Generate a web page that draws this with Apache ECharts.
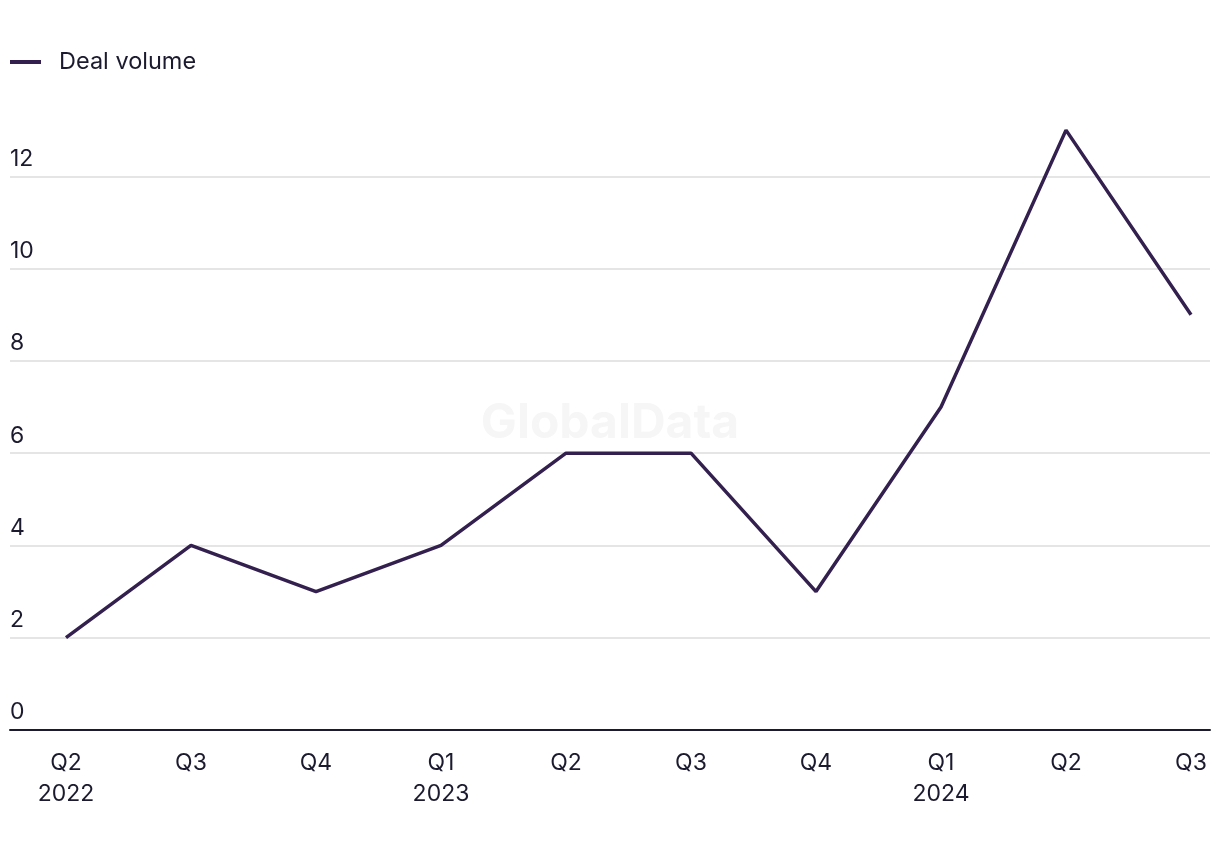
<!DOCTYPE html>
<html><head><meta charset="utf-8">
<script src="https://cdn.jsdelivr.net/npm/echarts@6/dist/echarts.min.js"></script>
<style>html,body{margin:0;padding:0;background:#fff}#c{width:1220px;height:850px}</style>
</head><body><div id="c"></div>
<script>
const categories = ['Q2\n2022','Q3','Q4','Q1\n2023','Q2','Q3','Q4','Q1\n2024','Q2','Q3'];
const dealVolume = [2,4,3,4,6,6,3,7,13,9];
const seriesName = 'Deal volume';
const FONT = 'Inter, "Liberation Sans", Arial, sans-serif';
const TXT = '#1b1a2e';
const chart = echarts.init(document.getElementById('c'));
chart.setOption({
  animation:false,
  textStyle:{fontFamily:FONT},
  legend:{left:10, top:50, padding:0, itemWidth:31, itemHeight:4, itemGap:20, icon:'rect',
    textStyle:{fontSize:23.5, color:TXT, fontFamily:FONT, padding:[0,0,0,13]},
    data:[{name:seriesName, icon:'rect'}]},
  graphic:[{type:'text', left:'center', top:400, z:0, silent:true,
    style:{text:'GlobalData', fontSize:48, fontWeight:'bold', fill:'#f6f6f6', fontFamily:FONT}}],
  grid:[
    {left:10, right:10, top:84, bottom:120},
    {left:66, right:29, top:84, bottom:120}
  ],
  xAxis:[
    {gridIndex:0, type:'category', data:categories, boundaryGap:false,
     axisLine:{show:true, lineStyle:{color:TXT, width:2}}, axisTick:{show:false}, axisLabel:{show:false}},
    {gridIndex:1, type:'category', data:categories, boundaryGap:false,
     axisLine:{show:false}, axisTick:{show:false},
     axisLabel:{fontSize:23, color:TXT, fontFamily:FONT, margin:18, lineHeight:31, align:'center'}}
  ],
  yAxis:[
    {gridIndex:0, type:'value', min:0, max:14, interval:2,
     axisLine:{show:false}, axisTick:{show:false},
     splitLine:{show:true, lineStyle:{color:['#dcdcdc','#dcdcdc','#dcdcdc','#dcdcdc','#dcdcdc','#dcdcdc','#dcdcdc','rgba(0,0,0,0)'], width:1.5}},
     axisLabel:{inside:true, margin:0, align:'left', verticalAlign:'bottom', padding:[0,0,6,0],
       fontSize:23, color:TXT, fontFamily:FONT,
       formatter:v=> v>=14 ? '' : String(v)}},
    {gridIndex:1, type:'value', min:0, max:14, interval:2, show:false, splitLine:{show:false}}
  ],
  series:[{name:seriesName, type:'line', xAxisIndex:1, yAxisIndex:1, data:dealVolume,
    showSymbol:false, symbol:'none', lineStyle:{color:'#33204f', width:3.5}, itemStyle:{color:'#33204f'}, z:3}]
});
</script></body></html>
